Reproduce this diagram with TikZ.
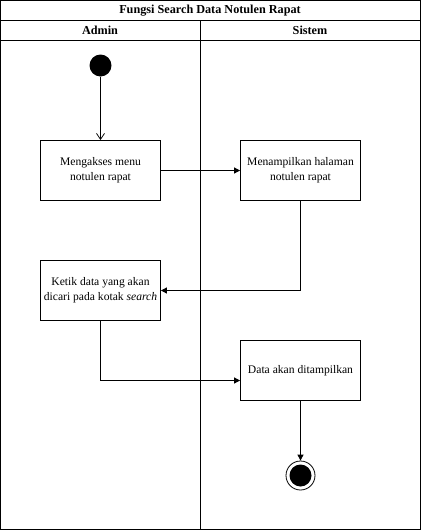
\documentclass[tikz,border=0pt]{standalone}
\usepackage{fontspec}
\setmainfont{Liberation Serif}
\usetikzlibrary{arrows.meta}
\begin{document}
\begin{tikzpicture}[x=1pt,y=-1pt,
  frame/.style={draw=black, line width=0.8pt},
  actbox/.style={draw=black, line width=0.8pt, minimum width=120pt, minimum height=60pt, align=center, font=\fontsize{11.6}{15}\selectfont, inner sep=0pt},
  flow/.style={draw=black, line width=0.8pt, -{Triangle[length=6pt,width=6pt]}},
  openflow/.style={draw=black, line width=0.8pt, -{Straight Barb[length=6pt,width=8pt]}},
  hdr/.style={font=\bfseries\fontsize{12.2}{14}\selectfont}]
\useasboundingbox (0,0) rectangle (421,531);
% frame and lanes
\draw[frame] (0.5,0.5) rectangle (420.5,529.5);
\draw[frame] (0.5,20.5) -- (420.5,20.5);
\draw[frame] (0.5,40.5) -- (420.5,40.5);
\draw[frame] (200.5,20.5) -- (200.5,529.5);
\node[hdr] (title) at (210,10.5) {Fungsi Search Data Notulen Rapat};
\node[hdr] (admin) at (100,30.5) {Admin};
\node[hdr] (sistem) at (310,30.5) {Sistem};
% nodes
\node[circle, fill=black, minimum size=22pt, inner sep=0pt] (start) at (100.5,65.5) {};
\node[actbox] (b1) at (100.5,170.5) {Mengakses menu\\notulen rapat};
\node[actbox] (b2) at (300.5,170.5) {Menampilkan halaman\\notulen rapat};
\node[actbox] (b3) at (100.5,290.5) {Ketik data yang akan\\dicari pada kotak \textit{search}};
\node[actbox] (b4) at (300.5,370.5) {Data akan ditampilkan};
\node[circle, draw=black, line width=0.8pt, minimum size=29pt, inner sep=0pt] (endc) at (300.5,475.5) {};
\node[circle, fill=black, minimum size=22pt, inner sep=0pt] (endi) at (endc) {};
% connectors
\draw[openflow] (start) -- (b1);
\draw[flow] (b1) -- (b2);
\draw[flow] (b2.south) |- (b3.east);
\draw[flow] (b3.south) |- (b4.west |- 0,380.5);
\draw[flow] (b4) -- (endc);
\end{tikzpicture}
\end{document}
